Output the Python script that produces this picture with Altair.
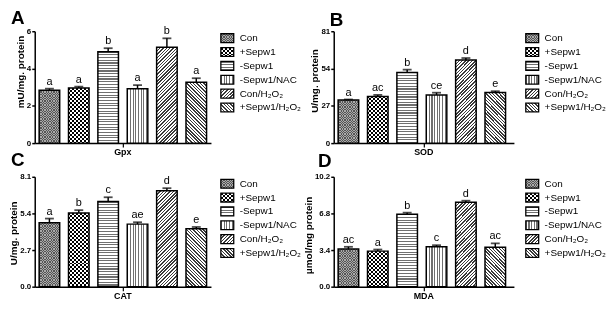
import altair as alt
import pandas as pd

FONT = "Liberation Sans"

groups = ["Con", "+Sepw1", "-Sepw1", "-Sepw1/NAC", "Con/H₂O₂", "+Sepw1/H₂O₂"]

gpx_mean = [2.84, 2.95, 4.90, 2.92, 5.14, 3.27]
gpx_sem = [0.08, 0.08, 0.19, 0.19, 0.48, 0.21]
gpx_letters = ["a", "a", "b", "a", "b", "a"]

sod_mean = [31.2, 33.8, 51.2, 34.9, 60.1, 36.7]
sod_sem = [0.4, 1.1, 2.0, 1.6, 1.5, 0.9]
sod_letters = ["a", "ac", "b", "ce", "d", "e"]

cat_mean = [4.72, 5.43, 6.27, 4.61, 7.07, 4.27]
cat_sem = [0.30, 0.21, 0.32, 0.14, 0.19, 0.13]
cat_letters = ["a", "b", "c", "ae", "d", "e"]

mda_mean = [3.50, 3.30, 6.72, 3.70, 7.83, 3.65]
mda_sem = [0.20, 0.15, 0.15, 0.15, 0.15, 0.37]
mda_letters = ["ac", "a", "b", "c", "d", "ac"]

gpx_ticks = [0, 2, 4, 6]
sod_ticks = [0, 27, 54, 81]
cat_ticks = [0.0, 2.7, 5.4, 8.1]
mda_ticks = [0.0, 3.4, 6.8, 10.2]

panels = [
    dict(tag="A", metric="Gpx", ytitle="mU/mg. protein", ticks=gpx_ticks, fmt="d",
         mean=gpx_mean, sem=gpx_sem, letters=gpx_letters, W=178, H=113, ty=0.36,
         tdx=-24, toff=-3),
    dict(tag="B", metric="SOD", ytitle="U/mg. protein", ticks=sod_ticks, fmt="d",
         mean=sod_mean, sem=sod_sem, letters=sod_letters, W=182, H=113, ty=0.44,
         tdx=-4, toff=-3),
    dict(tag="C", metric="CAT", ytitle="U/mg. protein", ticks=cat_ticks, fmt=".1f",
         mean=cat_mean, sem=cat_sem, letters=cat_letters, W=178, H=111, ty=0.51,
         tdx=-24, toff=3),
    dict(tag="D", metric="MDA", ytitle="μmol/mg protein", ticks=mda_ticks, fmt=".1f",
         mean=mda_mean, sem=mda_sem, letters=mda_letters, W=182, H=111, ty=0.53,
         tdx=-16, toff=2),
]


# ---------- pattern fills built from linear gradients ----------
def stripes(dt, duty, c1, c2, tmax=1.0):
    stops = []
    t = 0.0
    end = min(tmax, 1.0)
    while t < end:
        a = t
        b = min(t + dt * duty, 1.0)
        c = min(t + dt, 1.0)
        stops += [(a, c1), (b, c1), (b, c2), (c, c2)]
        t += dt
    if stops[-1][0] < 1.0:
        stops.append((1.0, stops[-1][1]))
    return [{"offset": round(o, 5), "color": col} for o, col in stops]


def grad_h(w, h, p=2.7, duty=0.4, c1="#6f6f6f", c2="#ffffff"):
    return {"gradient": "linear", "x1": 0, "y1": 0, "x2": 0, "y2": 1,
            "stops": stripes(p / h, duty, c1, c2)}


def grad_v(w, h, p=2.7, duty=0.4, c1="#6f6f6f", c2="#ffffff"):
    return {"gradient": "linear", "x1": 0, "y1": 0, "x2": 1, "y2": 0,
            "stops": stripes(p / w, duty, c1, c2)}


def grad_d(w, h, direction, p=3.4, duty=0.45, c1="#3a3a3a", c2="#ffffff"):
    k = h / w
    denom = w * (1 + k * k)
    tmax = (1 + k) / (1 + k * k)
    if direction == "/":
        x1, x2 = 0, 1
    else:
        x1, x2 = 1, 0
    return {"gradient": "linear", "x1": x1, "y1": 0, "x2": x2, "y2": round(k, 5),
            "stops": stripes(p / denom, duty, c1, c2, tmax)}


def fills_for(i, w, h):
    """list of (fill, blend) for group index i on a w x h px rectangle"""
    if i == 0:
        c = 1.3
        return [(grad_v(w, h, 2 * c, 0.5, "#000000", "#ffffff"), None),
                (grad_h(w, h, 2 * c, 0.5, "#555555", "#aaaaaa"), "difference")]
    if i == 1:
        c = 2.0
        return [(grad_v(w, h, 2 * c, 0.5, "#000000", "#ffffff"), None),
                (grad_h(w, h, 2 * c, 0.5, "#000000", "#ffffff"), "difference")]
    if i == 2:
        return [(grad_h(w, h), None)]
    if i == 3:
        return [(grad_v(w, h), None)]
    if i == 4:
        return [(grad_d(w, h, "/"), None)]
    return [(grad_d(w, h, "\\"), None)]


def mark_kwargs(fill, blend):
    kw = dict(fill=fill, strokeWidth=0)
    if blend:
        kw["blend"] = blend
    return kw


# ---------- panels ----------
def make_panel(p):
    df = pd.DataFrame({
        "metric": [p["metric"]] * len(groups),
        "group": groups,
        "mean": p["mean"],
        "sem": p["sem"],
        "letter": p["letters"],
    })
    df["top"] = df["mean"] + df["sem"]
    W, H = p["W"], p["H"]
    ymax = p["ticks"][-1]

    xaxis = alt.Axis(title=None, labelFont=FONT, labelFontSize=9, labelFontWeight="bold",
                     labelColor="black", labelAngle=0, domainColor="black", domainWidth=1.5,
                     tickColor="black", tickWidth=1.2, tickSize=4, labelPadding=1)
    yaxis = alt.Axis(title=p["ytitle"], values=p["ticks"], format=p["fmt"], grid=False,
                     labelFont=FONT, labelFontSize=8, labelFontWeight="bold", labelColor="black",
                     titleFont=FONT, titleFontSize=10, titleFontWeight="bold", titleColor="black",
                     domainColor="black", domainWidth=1.5, tickColor="black", tickWidth=1.5,
                     tickSize=3, labelPadding=1, titlePadding=1, titleY=p["ty"] * H)
    x = alt.X("metric:N", axis=xaxis, scale=alt.Scale(paddingInner=0, paddingOuter=0))
    xo = alt.XOffset("group:N", sort=groups,
                     scale=alt.Scale(domain=groups, paddingInner=0.3, paddingOuter=0.15))
    yscale = alt.Scale(domain=[0, ymax], nice=False)

    def Y(field):
        return alt.Y(f"{field}:Q", scale=yscale, axis=yaxis)

    base = alt.Chart(df)
    bw = 0.7 * W / 6.0
    layers = []
    for i, g in enumerate(groups):
        h = max(p["mean"][i] / ymax * H, 1.0)
        for fill, blend in fills_for(i, bw, h):
            layers.append(
                base.transform_filter(alt.datum.group == g)
                .mark_bar(**mark_kwargs(fill, blend))
                .encode(x=x, xOffset=xo, y=Y("mean"))
            )
    outline = base.mark_bar(fillOpacity=0, stroke="black", strokeWidth=1.5).encode(
        x=x, xOffset=xo, y=Y("mean"))
    rule = base.mark_rule(color="black", strokeWidth=1.5).encode(
        x=x, xOffset=xo, y=Y("mean"), y2="top:Q")
    cap = base.mark_tick(color="black", thickness=1.8, size=9).encode(
        x=x, xOffset=xo, y=Y("top"))
    text = base.mark_text(font=FONT, fontSize=11, baseline="bottom", dy=-2, color="black").encode(
        x=x, xOffset=xo, y=Y("top"), text="letter:N")
    layers += [outline, rule, cap, text]
    return alt.layer(*layers).properties(
        width=W, height=H,
        title=alt.TitleParams(p["tag"], anchor="start", frame="group", dx=p["tdx"], font=FONT,
                              fontSize=19, fontWeight="bold", color="black", offset=p["toff"]),
    )


def make_legend(width, x0):
    ldf = pd.DataFrame({"group": groups})
    ly = alt.Y("group:N", sort=groups, axis=None,
               scale=alt.Scale(domain=groups, paddingInner=0.36, paddingOuter=0.18))
    base = alt.Chart(ldf)
    layers = []
    for i, g in enumerate(groups):
        for fill, blend in fills_for(i, 13.0, 9.0):
            layers.append(
                base.transform_filter(alt.datum.group == g)
                .mark_rect(**mark_kwargs(fill, blend))
                .encode(y=ly, x=alt.value(x0), x2=alt.value(x0 + 13))
            )
    layers.append(base.mark_rect(fillOpacity=0, stroke="black", strokeWidth=1.3)
                  .encode(y=ly, x=alt.value(x0), x2=alt.value(x0 + 13)))
    layers.append(base.mark_text(font=FONT, fontSize=10, align="left", baseline="middle",
                                 color="black")
                  .encode(y=ly, x=alt.value(x0 + 19), text="group:N"))
    return alt.layer(*layers).properties(width=width, height=84)


charts = [
    make_panel(panels[0]), make_legend(104, 0), make_panel(panels[1]), make_legend(20, 2),
    make_panel(panels[2]), make_legend(104, 0), make_panel(panels[3]), make_legend(20, 2),
]

chart = alt.concat(
    *charts, columns=4, spacing={"row": 34, "column": 10}, bounds="flush", align="each"
).properties(
    padding={"left": 0, "top": 0, "right": 0, "bottom": 0}
).configure_view(stroke=None)

chart.save("out.html", embed_options={"renderer": "svg", "actions": False})
